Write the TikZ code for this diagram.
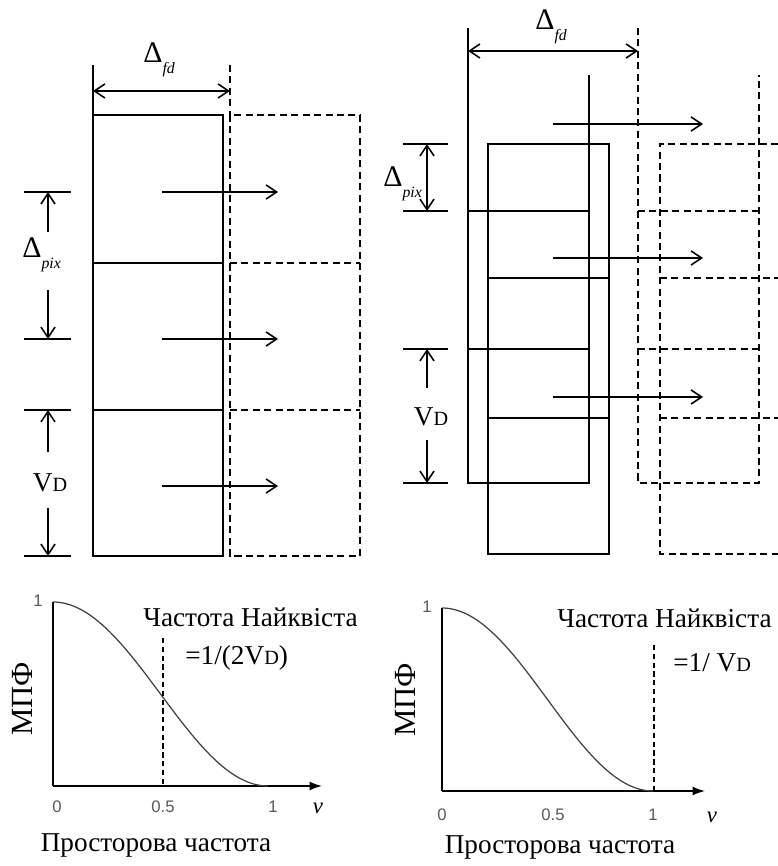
\documentclass[tikz,border=0pt]{standalone}
\usepackage{fontspec}
\setmainfont{Liberation Serif}
\newfontfamily\sansf{Liberation Sans}
\usetikzlibrary{arrows.meta}
\newcommand\dsub[1]{{\fontsize{17}{17}\selectfont Δ}\raisebox{-6pt}{\fontsize{9}{9}\selectfont\itshape #1}}
\newcommand\vdtxt{V{\fontsize{11.5}{12}\selectfont D}}
\begin{document}
\begin{tikzpicture}[x=0.2mm,y=-0.2mm,
  ln/.style={line width=0.9pt},
  dsh/.style={line width=0.9pt, dash pattern=on 4pt off 2.5pt},
  arr/.style={ln,-{Straight Barb[length=6pt,width=8pt]}},
  darr/.style={ln,{Straight Barb[length=6pt,width=8pt]}-{Straight Barb[length=6pt,width=8pt]}},
  txt/.style={inner sep=0pt, font=\fontsize{15.5}{18}\selectfont},
  mtxt/.style={inner sep=0pt, font=\fontsize{17.5}{20}\selectfont, rotate=90},
  ticklbl/.style={inner sep=0pt, font=\sansf\fontsize{9.5}{11}\selectfont, text=black!65},
  nulbl/.style={inner sep=0pt, font=\fontsize{13}{14}\selectfont\itshape},
  axis/.style={line width=0.8pt},
  curve/.style={line width=0.7pt, black!75},
  ndash/.style={line width=0.7pt, dash pattern=on 3pt off 2pt},
]
\fill[white] (0,0) rectangle (778,866);
\useasboundingbox (0,0) rectangle (778,866);

% ================= left panel =================
\coordinate (LdA) at (93,91);
\coordinate (LdB) at (230,91);
\draw[ln] (93,65) -- (93,115);
\draw[dsh] (230,65) -- (230,115);
\draw[darr] (LdA) -- (LdB);
\node[txt, anchor=base west] (Lfd) at (143,63) {\dsub{fd}};

\draw[ln] (93,115) rectangle (223,556);
\draw[ln] (93,263) -- (223,263);
\draw[ln] (93,410) -- (223,410);
\draw[dsh] (230,115) rectangle (360,556);
\draw[dsh] (230,263) -- (360,263);
\draw[dsh] (230,410) -- (360,410);

\foreach \y in {192,339,486} \draw[arr] (162,\y) -- (278,\y);

\foreach \y in {192,339,410,556} \draw[ln] (24,\y) -- (71,\y);
\draw[arr] (48,232) -- (48,192);
\draw[arr] (48,290) -- (48,339);
\draw[arr] (48,452) -- (48,410);
\draw[arr] (48,508) -- (48,556);
\node[txt, anchor=base west] (Lpix) at (22,258) {\dsub{pix}};
\node[txt] (Lvd) at (50,483) {\vdtxt};

% ================= right panel =================
\coordinate (RdA) at (468,51);
\coordinate (RdB) at (638,51);
\draw[darr] (RdA) -- (RdB);
\node[txt, anchor=base west] (Rfd) at (535,30) {\dsub{fd}};

\draw[ln] (468,28) -- (468,483) -- (589,483) -- (589,75);
\draw[ln] (468,211) -- (589,211);
\draw[ln] (468,349) -- (589,349);
\draw[ln] (488,144) rectangle (609,554);
\draw[ln] (488,278) -- (609,278);
\draw[ln] (488,418) -- (609,418);

\draw[dsh] (638,28) -- (638,483) -- (759,483) -- (759,75);
\draw[dsh] (638,211) -- (759,211);
\draw[dsh] (638,349) -- (759,349);
\draw[dsh] (778,144) -- (660,144) -- (660,554) -- (778,554);
\draw[dsh] (660,278) -- (778,278);
\draw[dsh] (660,418) -- (778,418);

\foreach \y in {124,258,397} \draw[arr] (553,\y) -- (703,\y);

\foreach \y in {144,211,349,483} \draw[ln] (403,\y) -- (448,\y);
\draw[darr] (427,144) -- (427,211);
\draw[arr] (427,388) -- (427,349);
\draw[arr] (427,440) -- (427,483);
\node[txt, anchor=base west] (Rpix) at (383,187) {\dsub{pix}};
\node[txt] (Rvd) at (431,417) {\vdtxt};

% ================= left graph =================
\coordinate (LO) at (53,786);
\coordinate (LY) at (53,602);
\coordinate (LX) at (322,786);
\draw[axis] (LY) -- (LO);
\draw[axis,-{Latex[length=7pt,width=5pt]}] (LO) -- (LX);
\draw[curve] plot[domain=0:1,samples=80] ({53+215*\x},{786-92*(1+cos(180*\x))});
\draw[ndash] (163,638) -- (163,786);
\node[ticklbl] at (38,601) {1};
\node[ticklbl] at (57,807) {0};
\node[ticklbl] at (163,807) {0.5};
\node[ticklbl] at (273,807) {1};
\node[nulbl] at (318,808) {ν};
\node[txt, anchor=west] (Lny) at (143,617) {Частота Найквіста};
\node[txt, anchor=west] (Lf) at (185,658) {=1/(2\vdtxt)};
\node[mtxt] (Lm) at (22,699) {МПФ};
\node[txt] (Lp) at (156,845) {Просторова частота};

% ================= right graph =================
\coordinate (RO) at (442,791);
\coordinate (RY) at (442,608);
\coordinate (RX) at (705,791);
\draw[axis] (RY) -- (RO);
\draw[axis,-{Latex[length=7pt,width=5pt]}] (RO) -- (RX);
\draw[curve] plot[domain=0:1,samples=80] ({442+211*\x},{791-91.5*(1+cos(180*\x))});
\draw[ndash] (654,645) -- (654,791);
\node[ticklbl] at (427,607) {1};
\node[ticklbl] at (442,815) {0};
\node[ticklbl] at (553,815) {0.5};
\node[ticklbl] at (653,815) {1};
\node[nulbl] at (712,817) {ν};
\node[txt, anchor=west] (Rny) at (557,618) {Частота Найквіста};
\node[txt, anchor=west] (Rf) at (673,663) {=1/ \vdtxt};
\node[mtxt] (Rm) at (405,700) {МПФ};
\node[txt] (Rp) at (560,847) {Просторова частота};
\end{tikzpicture}
\end{document}
